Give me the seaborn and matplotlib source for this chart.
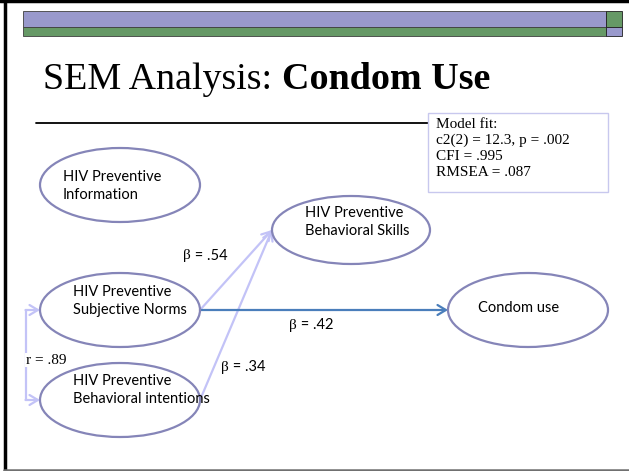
import matplotlib
matplotlib.use("Agg")
import matplotlib.pyplot as plt
from matplotlib.patches import Ellipse, Rectangle
import seaborn as sns

# model variables (ellipses) and their labels
node_ids = ["info", "norms", "intent", "skills", "condom"]
node_labels = [
    "HIV Preventive\nInformation",
    "HIV Preventive\nSubjective Norms",
    "HIV Preventive\nBehavioral intentions",
    "HIV Preventive\nBehavioral Skills",
    "Condom use",
]

# structural paths and standardized coefficients
path_from = ["norms", "intent", "norms"]
path_to = ["skills", "skills", "condom"]
path_beta = [".54", ".34", ".42"]
corr_pair = ["norms", "intent"]
corr_r = ".89"

fit_lines = ["Model fit:", "c2(2) = 12.3, p = .002", "CFI = .995", "RMSEA = .087"]

# layout in slide pixels (y grows downward)
centers = {"info": (120, 185), "norms": (120, 310), "intent": (120, 400),
           "skills": (351, 230), "condom": (528, 310)}
sizes = {"info": (160, 74), "norms": (160, 74), "intent": (160, 74),
         "skills": (158, 68), "condom": (160, 74)}
text_pos = {"info": (63, 186), "norms": (73, 301), "intent": (73, 390),
            "skills": (305, 222), "condom": (478, 308)}
beta_pos = [(183, 256), (221, 367), (289, 325)]
path_colors = ["#c3c3f7", "#c3c3f7", "#4a7ebb"]

sns.set_theme(style="white")
plt.rcParams["text.color"] = "black"
fig = plt.figure(figsize=(6.29, 4.71), dpi=100)
ax = fig.add_axes([0, 0, 1, 1])
ax.set_xlim(0, 629)
ax.set_ylim(471, 0)
ax.axis("off")

edge_col = "#8585b8"
label_font = ["Lato", "DejaVu Sans"]
serif = ["Liberation Serif", "DejaVu Serif"]

# slide frame
ax.plot([0, 629], [1, 1], color="black", lw=2.5)
ax.plot([4.5, 4.5], [0, 471], color="black", lw=2.5)
ax.plot([4, 629], [470, 470], color="#707070", lw=1.8)

# header bars
purple, green = "#9999cc", "#669966"
ax.add_patch(Rectangle((23, 11), 583, 16, fc=purple, ec="#404040", lw=0.6))
ax.add_patch(Rectangle((23, 27), 583, 9, fc=green, ec="#404040", lw=0.6))
ax.add_patch(Rectangle((606, 11), 16, 16, fc=green, ec="#202020", lw=0.6))
ax.add_patch(Rectangle((606, 27), 16, 9, fc=purple, ec="#202020", lw=0.6))

# title
t1 = ax.text(43, 89, "SEM Analysis: ", fontsize=27.4, family=serif, va="baseline", ha="left")
fig.canvas.draw()
bb = t1.get_window_extent(renderer=fig.canvas.get_renderer())
x_end = ax.transData.inverted().transform((bb.x1, bb.y0))[0]
ax.text(x_end, 89, "Condom Use", fontsize=27.4, family=serif, fontweight="bold",
        va="baseline", ha="left")

ax.plot([36, 428], [123, 123], color="black", lw=1.3)

# model fit box
ax.add_patch(Rectangle((428, 113), 180, 79, fc="white", ec="#c8c8ee", lw=1, zorder=3))
for i, line in enumerate(fit_lines):
    ax.text(436, 125 + i * 15.7, line, fontsize=11, family=serif, va="center",
            ha="left", zorder=4)

# ellipses
for nid, lab in zip(node_ids, node_labels):
    cx, cy = centers[nid]
    w, h = sizes[nid]
    ax.add_patch(Ellipse((cx, cy), w, h, fc="none", ec=edge_col, lw=1.6, zorder=2))
    tx, ty = text_pos[nid]
    ax.text(tx, ty, lab, fontsize=10.5, family=label_font, va="center", ha="left",
            linespacing=1.3, zorder=4)

# directed paths
for src, dst, b, (bx, by), col in zip(path_from, path_to, path_beta, beta_pos, path_colors):
    sx = centers[src][0] + sizes[src][0] / 2
    sy = centers[src][1]
    dx = centers[dst][0] - sizes[dst][0] / 2
    dy = centers[dst][1]
    ax.annotate("", xy=(dx, dy), xytext=(sx, sy),
                arrowprops=dict(arrowstyle="->,head_length=0.5,head_width=0.3",
                                color=col, lw=1.6, shrinkA=0, shrinkB=0,
                                mutation_scale=12), zorder=1)
    bt = ax.text(bx, by, "\u03b2", fontsize=11, family=serif, va="center", ha="left")
    fig.canvas.draw()
    bbx = bt.get_window_extent(renderer=fig.canvas.get_renderer())
    bx2 = ax.transData.inverted().transform((bbx.x1, bbx.y0))[0]
    ax.text(bx2, by, " = " + b, fontsize=10.5, family=label_font, va="center", ha="left")

# correlation bracket
lx = 26
ya = centers[corr_pair[0]][1]
yb = centers[corr_pair[1]][1]
ex = centers[corr_pair[0]][0] - sizes[corr_pair[0]][0] / 2
ax.plot([lx, lx], [ya, yb], color="#c3c3f7", lw=1.6)
for yy in (ya, yb):
    ax.annotate("", xy=(ex, yy), xytext=(lx - 0.5, yy),
                arrowprops=dict(arrowstyle="->,head_length=0.5,head_width=0.3",
                                color="#c3c3f7", lw=1.6, shrinkA=0, shrinkB=0,
                                mutation_scale=12))
ax.text(lx, (ya + yb) / 2 + 5, "r = " + corr_r, fontsize=11, family=serif,
        va="center", ha="left", bbox=dict(fc="white", ec="none", pad=0.5))

fig.savefig("out.png", dpi=100)
